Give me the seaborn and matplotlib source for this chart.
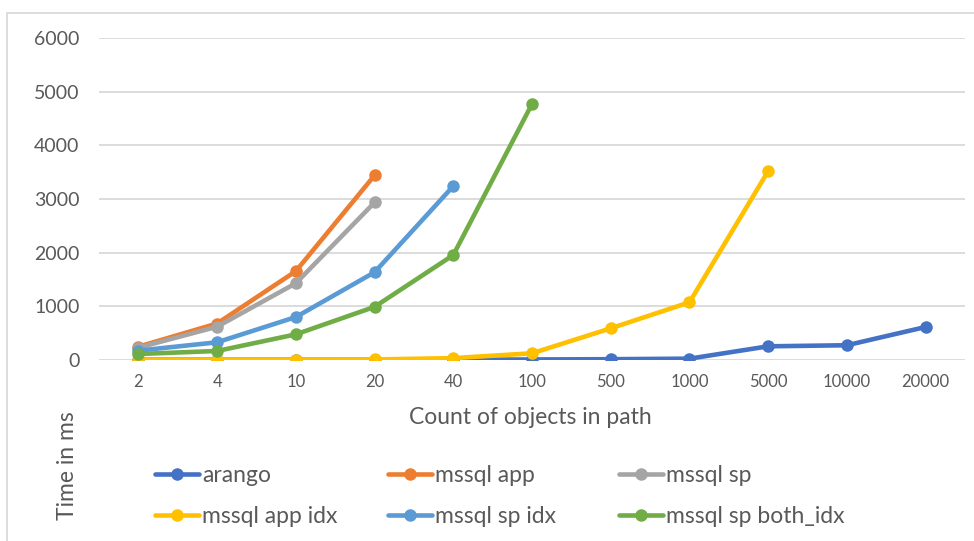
import numpy as np
import pandas as pd
import seaborn as sns
import matplotlib.pyplot as plt
from matplotlib.lines import Line2D
from matplotlib.patches import Rectangle

# Path lengths tested (categorical x axis)
categories = ["2", "4", "10", "20", "40", "100", "500", "1000", "5000", "10000", "20000"]

nan = np.nan
arango = [5, 5, 5, 5, 5, 10, 15, 25, 255, 275, 615]
mssql_app = [248, 680, 1655, 3440, nan, nan, nan, nan, nan, nan, nan]
mssql_sp = [230, 620, 1430, 2935, nan, nan, nan, nan, nan, nan, nan]
mssql_app_idx = [5, 5, 5, 10, 35, 125, 590, 1075, 3520, nan, nan]
mssql_sp_idx = [175, 330, 800, 1635, 3240, nan, nan, nan, nan, nan, nan]
mssql_sp_both_idx = [112, 168, 478, 990, 1955, 4770, nan, nan, nan, nan, nan]

series_names = ["arango", "mssql app", "mssql sp", "mssql app idx", "mssql sp idx", "mssql sp both_idx"]
series_values = [arango, mssql_app, mssql_sp, mssql_app_idx, mssql_sp_idx, mssql_sp_both_idx]
colors = ["#4472C4", "#ED7D31", "#A5A5A5", "#FFC000", "#5B9BD5", "#70AD47"]

rows = []
for name, vals in zip(series_names, series_values):
    for pos, (cat, v) in enumerate(zip(categories, vals)):
        rows.append({"series": name, "pos": pos, "count": cat, "ms": v})
df = pd.DataFrame(rows)

sns.set_theme(style="white")
plt.rcParams["font.family"] = ["Lato", "DejaVu Sans"]
text_color = "#595959"

W, H = 974, 541
fig = plt.figure(figsize=(W / 100, H / 100), dpi=100)
ax = fig.add_axes([99 / W, 1 - 360 / H, 866 / W, 322 / H])

for name, color in zip(series_names, colors):
    sub = df[df["series"] == name].dropna()
    sns.lineplot(data=sub, x="pos", y="ms", ax=ax, color=color, lw=3.3,
                 marker="o", markersize=9, markeredgewidth=0, sort=False,
                 legend=False, zorder=3)

ax.set_xlim(-0.5, len(categories) - 0.5)
ax.set_ylim(0, 6000)
ax.set_xticks(range(len(categories)))
ax.set_xticklabels(categories)
ax.set_yticks(range(0, 6001, 1000))
ax.yaxis.grid(True, color="#D9D9D9", lw=1.3)
ax.xaxis.grid(False)
for s in ax.spines.values():
    s.set_visible(False)
ax.tick_params(axis="both", length=0, colors=text_color, labelsize=12)
ax.tick_params(axis="x", pad=10)
ax.tick_params(axis="y", pad=14)
for lab in ax.get_yticklabels():
    lab.set_fontsize(14)
ax.set_xlabel("")
ax.set_ylabel("")

fig.text(530 / W, 1 - 417 / H, "Count of objects in path", ha="center", va="center",
         fontsize=16.5, color=text_color)
fig.text(68 / W, 1 - 466 / H, "Time in ms", ha="center", va="center", rotation=90,
         fontsize=16.5, color=text_color)

# Outer chart frame
fig.patches.append(Rectangle((7 / W, -0.1), 1.2, 1 - 13 / H + 0.1, transform=fig.transFigure,
                             fill=False, edgecolor="#D9D9D9", lw=1.3))

# Legend: three columns of two entries each
handles = [Line2D([0], [0], color=c, lw=3.3, marker="o", markersize=9, markeredgewidth=0)
           for c in colors]
column_x = [155, 388, 619]
for col, x0 in enumerate(column_x):
    idx = [col, col + 3]
    fig.legend([handles[i] for i in idx], [series_names[i] for i in idx],
               loc="center left", bbox_to_anchor=(x0 / W, 1 - 496 / H),
               frameon=False, fontsize=16.5, handlelength=1.9, handletextpad=0.15,
               labelspacing=0.88, borderpad=0, borderaxespad=0, labelcolor=text_color)

fig.savefig("out.png", dpi=100)
